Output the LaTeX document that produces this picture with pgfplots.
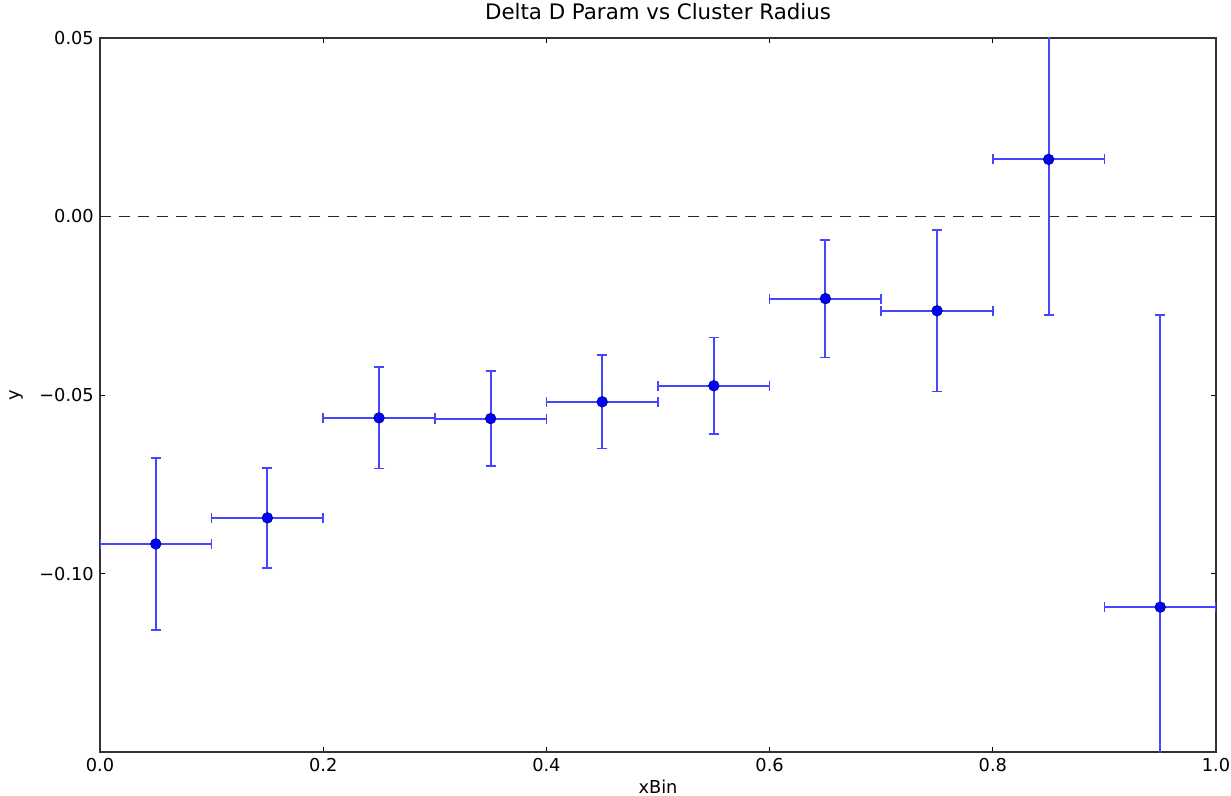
\documentclass[border=0pt]{standalone}
\usepackage{fontspec}
\setmainfont{DejaVu Sans}
\usepackage{pgfplots}
\usepackage{pgfplotstable}
\pgfplotsset{compat=1.18}
\definecolor{ebblue}{RGB}{70,70,255}
\pgfplotstableread{
x     y        ex     ey
0.05  -0.0917  0.05   0.0241
0.15  -0.0844  0.05   0.0140
0.25  -0.0564  0.05   0.0142
0.35  -0.0566  0.05   0.0133
0.45  -0.0519  0.05   0.0131
0.55  -0.0474  0.05   0.0135
0.65  -0.0230  0.05   0.0165
0.75  -0.0264  0.05   0.0226
0.85   0.0160  0.05   0.0435
0.95  -0.1094  0.05   0.0819
}\datatable
\begin{document}
\fontsize{12}{14}\selectfont
\begin{tikzpicture}
\begin{axis}[
  name=ax,
  scale only axis,
  width=753.3pt, height=482pt,
  xmin=0, xmax=1, ymin=-0.15, ymax=0.05,
  xtick={0,0.2,0.4,0.6,0.8,1.0},
  xticklabels={0.0,0.2,0.4,0.6,0.8,1.0},
  ytick={-0.1,-0.05,0,0.05},
  yticklabels={−0.10,−0.05,0.00,0.05},
  tick align=inside,
  major tick length=3.4pt,
  tick style={black, line width=0.7pt},
  axis line style={black!80, line width=0.9pt},
  xtick pos=both, ytick pos=both,
  xticklabel pos=lower, yticklabel pos=left,
  tick label style={font=\fontsize{12}{14}\selectfont},
  title={Delta D Param vs Cluster Radius},
  title style={font=\fontsize{14.4}{16}\selectfont, at={(axis description cs:0.5,1)}, anchor=base, yshift=6.4pt},
  xlabel={xBin},
  xlabel style={font=\fontsize{12}{14}\selectfont, at={(axis description cs:0.5,0)}, anchor=base, yshift=-27.7pt},
  ylabel={y},
  ylabel style={font=\fontsize{12}{14}\selectfont, at={(axis description cs:0,0.5)}, anchor=base, yshift=54pt},
  clip=true,
]
\addplot[black!85, line width=1pt, dash pattern=on 7.4pt off 5.4pt, forget plot] coordinates {(0,0) (1,0)};
\addplot[
  color=ebblue,
  only marks, mark=*, mark size=3.6pt,
  mark options={fill=blue, draw=blue!50!black, line width=0.4pt},
  error bars/.cd,
    x dir=both, x explicit,
    y dir=both, y explicit,
    error mark=|,
    error bar style={draw=ebblue, line width=1.3pt},
    error mark options={draw=ebblue, fill=ebblue, line width=1.1pt, mark size=3.4pt},
] table[x=x, y=y, x error=ex, y error=ey] {\datatable};
\end{axis}
\pgfresetboundingbox
\path[use as bounding box] ([shift={(-67.5pt,-29pt)}]ax.south west) rectangle ([shift={(10.1pt,25.65pt)}]ax.north east);
\end{tikzpicture}
\end{document}
